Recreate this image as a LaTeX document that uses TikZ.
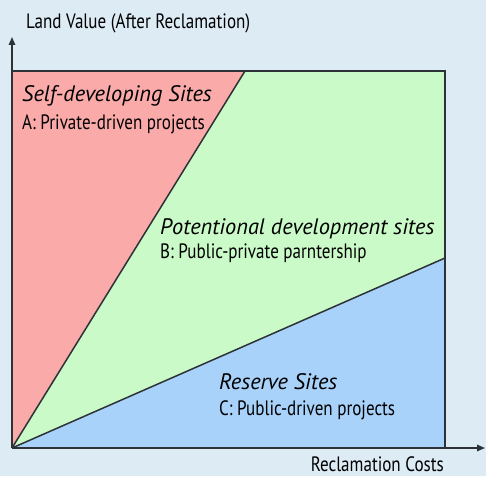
\documentclass[tikz,border=0pt]{standalone}
\usepackage{fontspec}
\setmainfont[FakeStretch=0.82]{PT Sans}
\newfontfamily\itfont{PT Sans}[UprightFont=*-Italic]
\usetikzlibrary{arrows.meta}
\definecolor{bgc}{RGB}{221,235,245}
\definecolor{redc}{RGB}{251,170,170}
\definecolor{greenc}{RGB}{202,250,200}
\definecolor{bluec}{RGB}{168,210,250}
\definecolor{linec}{RGB}{45,50,55}
\tikzset{
  lbl/.style={anchor=base west, inner sep=0pt, font=\fontsize{20.8}{24}\selectfont, text=black},
  ttl/.style={anchor=base west, inner sep=0pt, font=\itfont\fontsize{22.4}{26}\selectfont, text=black},
  edge/.style={draw=linec, line width=1.5pt},
  axis/.style={draw=linec, line width=1.5pt, -{Triangle[length=8pt,width=6.5pt]}}
}
\begin{document}
\begin{tikzpicture}[x=1pt,y=-1pt]
\fill[bgc] (0,0) rectangle (486,476);
\useasboundingbox (0,0) rectangle (486,476);
\coordinate (O) at (12,448);
\coordinate (TL) at (12,71);
\coordinate (P) at (245,71);
\coordinate (TR) at (445,71);
\coordinate (Q) at (445,258);
\coordinate (BR) at (445,448);
\coordinate (YT) at (12,37);
\coordinate (XT) at (485,448);
\fill[redc] (O) -- (TL) -- (P) -- cycle;
\fill[greenc] (O) -- (P) -- (TR) -- (Q) -- cycle;
\fill[bluec] (O) -- (Q) -- (BR) -- cycle;
\draw[edge] (TL) -- (TR) -- (BR);
\draw[edge] (O) -- (P);
\draw[edge] (O) -- (Q);
\draw[axis] (O) -- (YT);
\draw[axis] (O) -- (XT);
\node[lbl] (ylab) at (26,29) {Land Value (After Reclamation)};
\node[lbl, anchor=base east, text depth=0pt] (xlab) at (444,471) {Reclamation Costs};
\node[ttl] (ta) at (22,102) {Self-developing Sites};
\node[lbl] (la) at (22,129) {A: Private-driven projects};
\node[ttl] (tb) at (160,234) {Potentional development sites};
\node[lbl] (lb) at (160,258) {B: Public-private parntership};
\node[ttl] (tc) at (219,389) {Reserve Sites};
\node[lbl] (lc) at (219,415) {C: Public-driven projects};
\end{tikzpicture}
\end{document}
